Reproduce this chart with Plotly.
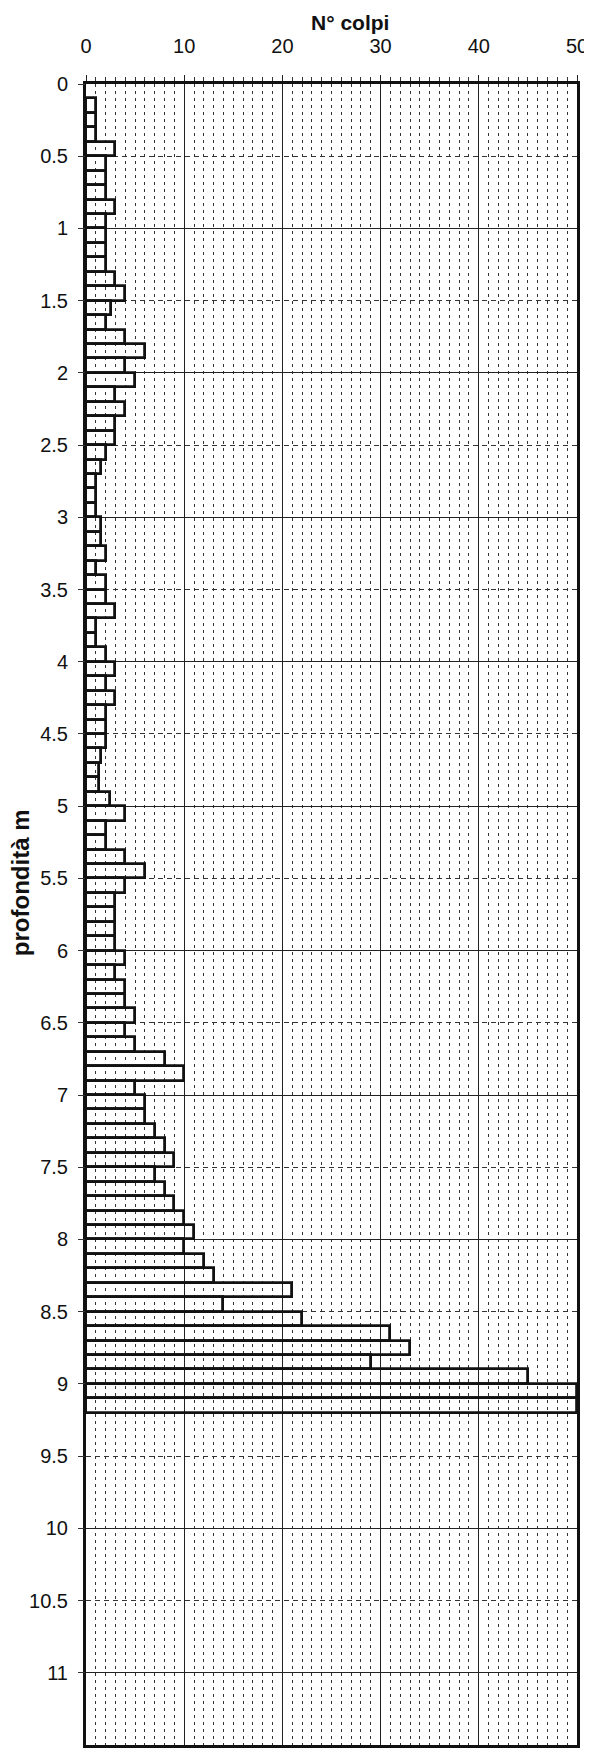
import plotly.graph_objects as go

# depth intervals (top of each 0.1 m step, metres)
depth_top = [0.1, 0.2, 0.3, 0.4, 0.5, 0.6, 0.7, 0.8, 0.9, 1.0,
             1.1, 1.2, 1.3, 1.4, 1.5, 1.6, 1.7, 1.8, 1.9, 2.0,
             2.1, 2.2, 2.3, 2.4, 2.5, 2.6, 2.7, 2.8, 2.9, 3.0,
             3.1, 3.2, 3.3, 3.4, 3.5, 3.6, 3.7, 3.8, 3.9, 4.0,
             4.1, 4.2, 4.3, 4.4, 4.5, 4.6, 4.7, 4.8, 4.9, 5.0,
             5.1, 5.2, 5.3, 5.4, 5.5, 5.6, 5.7, 5.8, 5.9, 6.0,
             6.1, 6.2, 6.3, 6.4, 6.5, 6.6, 6.7, 6.8, 6.9, 7.0,
             7.1, 7.2, 7.3, 7.4, 7.5, 7.6, 7.7, 7.8, 7.9, 8.0,
             8.1, 8.2, 8.3, 8.4, 8.5, 8.6, 8.7, 8.8, 8.9, 9.0,
             9.1]
step = 0.1

# number of blows per step
colpi = [1, 1, 1, 3, 2, 2, 2, 3, 2, 2,
         2, 2, 3, 4, 2.5, 2, 4, 6, 4, 5,
         3, 4, 3, 3, 2, 1.5, 1, 1, 1, 1.5,
         1.5, 2, 1, 2, 2, 3, 1, 1, 2, 3,
         2, 3, 2, 2, 2, 1.5, 1.3, 1.3, 2.4, 4,
         2, 2, 4, 6, 4, 3, 3, 3, 3, 4,
         3, 4, 4, 5, 4, 5, 8, 10, 5, 6,
         6, 7, 8, 9, 7, 8, 9, 10, 11, 10,
         12, 13, 21, 14, 22, 31, 33, 29, 45, 50,
         50]

x_ticks = [0, 10, 20, 30, 40, 50]
y_ticks = [0, 0.5, 1, 1.5, 2, 2.5, 3, 3.5, 4, 4.5, 5, 5.5,
           6, 6.5, 7, 7.5, 8, 8.5, 9, 9.5, 10, 10.5, 11]
y_max = 11.5

mid = [d + step / 2 for d in depth_top]

fig = go.Figure()
fig.add_trace(go.Bar(
    x=colpi, y=mid, width=step, orientation="h", base=0,
    marker=dict(color="rgba(255,255,255,0)",
                line=dict(color="#111111", width=2.8)),
    showlegend=False, hoverinfo="x+y",
))
fig.add_trace(go.Scatter(x=[None], y=[None], yaxis="y2",
                         showlegend=False, hoverinfo="skip"))

font_main = "Liberation Sans, Arial, sans-serif"

fig.update_layout(
    width=592, height=1752,
    margin=dict(l=78, r=19, t=76, b=12),
    paper_bgcolor="white", plot_bgcolor="white",
    font=dict(family=font_main, color="#111111"),
    bargap=0,
    xaxis=dict(
        side="top", range=[0, 50], tickvals=x_ticks,
        tickfont=dict(size=20, color="#111111"),
        ticks="outside", ticklen=6, tickcolor="#222222", tickwidth=1,
        ticklabelstandoff=14,
        showgrid=True, gridcolor="#222222", gridwidth=1,
        showline=True, linecolor="#111111", linewidth=3, mirror=True,
        zeroline=False,
        minor=dict(dtick=1, showgrid=True, gridcolor="#333333",
                   griddash="3px,4px", gridwidth=1,
                   ticks="outside", ticklen=4, tickcolor="#333333"),
    ),
    yaxis=dict(
        range=[y_max, 0], dtick=1, tick0=0,
        showticklabels=False, ticks="",
        showgrid=True, gridcolor="#222222", gridwidth=1,
        showline=True, linecolor="#111111", linewidth=3, mirror=True,
        zeroline=False,
        minor=dict(dtick=0.5, showgrid=True, gridcolor="#333333",
                   griddash="5px,4px", gridwidth=1),
    ),
    yaxis2=dict(
        overlaying="y", side="left", range=[y_max, 0], tickvals=y_ticks,
        tickfont=dict(size=20, color="#111111"),
        ticks="outside", ticklen=7, tickcolor="#333333",
        ticklabelstandoff=6,
        showgrid=False, zeroline=False, showline=False,
    ),
    annotations=[
        dict(text="<b>N° colpi</b>", xref="paper", yref="paper",
             x=0.537, y=1.0451, xanchor="center", yanchor="top",
             showarrow=False, font=dict(size=21, family=font_main, color="#111111")),
        dict(text="<b>profondità m</b>", xref="paper", yref="paper",
             x=-0.132, y=0.519, xanchor="center", yanchor="middle",
             textangle=-90, showarrow=False,
             font=dict(size=24, family=font_main, color="#111111")),
    ],
)

fig.write_html("out.html")
